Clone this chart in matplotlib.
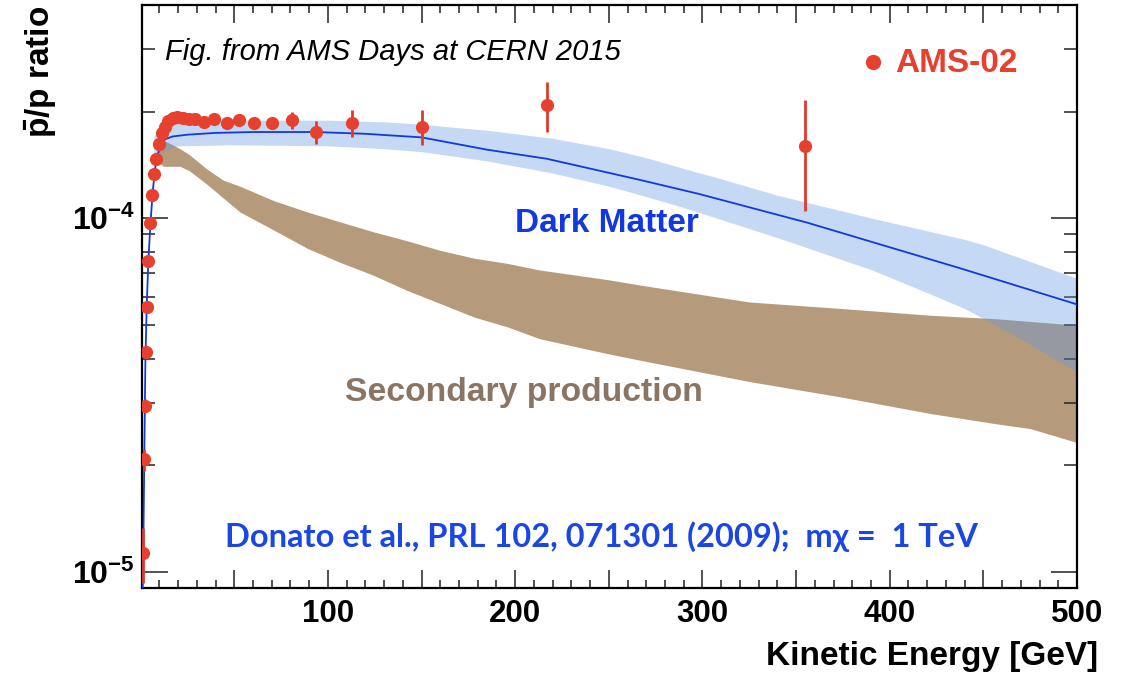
import numpy as np
import matplotlib
matplotlib.use("Agg")
import matplotlib.pyplot as plt
from matplotlib.ticker import MultipleLocator, FuncFormatter, LogLocator, NullFormatter

plt.rcParams['font.family'] = ['Liberation Sans', 'DejaVu Sans']
plt.rcParams['mathtext.fontset'] = 'custom'
plt.rcParams['mathtext.rm'] = 'Liberation Sans:bold'
plt.rcParams['mathtext.bf'] = 'Liberation Sans:bold'
plt.rcParams['mathtext.it'] = 'Liberation Sans:bold'

# AMS-02 pbar/p measurements (kinetic energy in GeV)
ams_energy = [1.3, 1.7, 2.1, 2.6, 3.2, 4.1, 5.2, 6.0, 7.1, 8.2, 10.0, 11.4, 12.8, 14.8,
              17.1, 19.6, 22.4, 25.9, 29.1, 33.8, 39.1, 45.9, 52.6, 60.5, 69.9, 81.0,
              93.6, 112.7, 150.1, 217.1, 354.8]
ams_ratio = [1.13e-5, 2.08e-5, 2.95e-5, 4.18e-5, 5.61e-5, 7.55e-5, 9.7e-5, 1.16e-4,
             1.33e-4, 1.47e-4, 1.62e-4, 1.74e-4, 1.81e-4, 1.88e-4, 1.92e-4, 1.93e-4,
             1.92e-4, 1.91e-4, 1.91e-4, 1.87e-4, 1.90e-4, 1.85e-4, 1.89e-4, 1.85e-4,
             1.85e-4, 1.89e-4, 1.75e-4, 1.86e-4, 1.81e-4, 2.09e-4, 1.60e-4]
ams_err = [2.0e-6, 1.5e-6, 1.2e-6, 1.2e-6, 1.5e-6, 2e-6, 2e-6, 2.5e-6, 3e-6, 3e-6, 3e-6,
           3e-6, 3e-6, 3e-6, 3e-6, 3e-6, 3e-6, 3.5e-6, 3.5e-6, 4e-6, 4e-6, 4.5e-6, 5e-6,
           5.5e-6, 7e-6, 1.1e-5, 1.3e-5, 1.65e-5, 2.05e-5, 3.35e-5, 5.55e-5]

# dark matter model (central curve)
dm_energy = [0.8, 1.0, 1.5, 2.0, 2.5, 3.2, 4.1, 5.3, 6.5, 8, 10, 13, 17, 25, 40, 60, 93,
             120, 150, 185, 217, 267, 298, 356, 438, 500]
dm_ratio = [5e-6, 8.5e-6, 1.3e-5, 2.3e-5, 3.9e-5, 5.6e-5, 7.6e-5, 9.8e-5, 1.2e-4, 1.42e-4,
            1.58e-4, 1.67e-4, 1.70e-4, 1.72e-4, 1.74e-4, 1.75e-4, 1.75e-4, 1.73e-4,
            1.69e-4, 1.56e-4, 1.47e-4, 1.28e-4, 1.17e-4, 9.7e-5, 7.2e-5, 5.7e-5]

# dark matter uncertainty band
band_energy = [7, 10, 15, 20, 50, 100, 130, 150, 185, 220, 250, 270, 290, 310, 340, 390,
               420, 440, 450, 470, 500]
band_hi = [1.70e-4, 1.80e-4, 1.86e-4, 1.88e-4, 1.89e-4, 1.89e-4, 1.87e-4, 1.84e-4, 1.77e-4,
           1.68e-4, 1.57e-4, 1.48e-4, 1.38e-4, 1.29e-4, 1.16e-4, 1.00e-4, 9.2e-5, 8.7e-5,
           8.4e-5, 7.7e-5, 6.75e-5]
band_lo = [1.48e-4, 1.52e-4, 1.57e-4, 1.60e-4, 1.61e-4, 1.60e-4, 1.57e-4, 1.54e-4, 1.45e-4,
           1.34e-4, 1.23e-4, 1.15e-4, 1.07e-4, 9.9e-5, 8.8e-5, 7.15e-5, 6.15e-5, 5.55e-5,
           5.2e-5, 4.55e-5, 3.67e-5]

# secondary production band
sec_energy = [9, 12, 17, 21, 26, 35, 44, 53, 71, 89, 106, 124, 142, 160, 178, 196, 213,
              249, 267, 325, 374, 422, 457, 475, 500]
sec_hi = [1.58e-4, 1.66e-4, 1.61e-4, 1.57e-4, 1.51e-4, 1.38e-4, 1.28e-4, 1.23e-4, 1.12e-4,
          1.04e-4, 9.77e-5, 9.15e-5, 8.63e-5, 8.1e-5, 7.7e-5, 7.44e-5, 7.13e-5, 6.7e-5,
          6.46e-5, 5.79e-5, 5.55e-5, 5.31e-5, 5.19e-5, 5.1e-5, 4.98e-5]
sec_lo = [1.45e-4, 1.40e-4, 1.40e-4, 1.40e-4, 1.36e-4, 1.25e-4, 1.14e-4, 1.04e-4, 9.25e-5,
          8.21e-5, 7.51e-5, 6.90e-5, 6.25e-5, 5.73e-5, 5.25e-5, 4.92e-5, 4.56e-5, 4.14e-5,
          3.96e-5, 3.45e-5, 3.12e-5, 2.80e-5, 2.62e-5, 2.54e-5, 2.32e-5]

W, H = 1128, 675
fig = plt.figure(figsize=(W / 100, H / 100), dpi=100)
ax = fig.add_axes([142 / W, 1 - 588 / H, (1077 - 142) / W, (588 - 5) / H])


def px(x, y):
    # pixel position -> figure fraction
    return x / W, 1 - y / H


red = '#e6412f'
blue = '#1238e0'

ax.fill_between(sec_energy, sec_lo, sec_hi, color='#b59b7c', lw=0, zorder=1)
ax.fill_between(band_energy, band_lo, band_hi, color='#6097e4', alpha=0.365, lw=0, zorder=2)
ax.plot(dm_energy, dm_ratio, color=blue, lw=1.3, zorder=3)
ax.errorbar(ams_energy, ams_ratio, yerr=ams_err, fmt='o', color=red, ms=9.5, mew=0,
            elinewidth=2, ecolor='#dd3b2c', capsize=0, zorder=4)

ax.set_yscale('log')
ax.set_xlim(0.7, 500)
ax.set_ylim(9e-6, 4e-4)

ax.xaxis.set_major_locator(MultipleLocator(50))
ax.xaxis.set_minor_locator(MultipleLocator(10))
ax.xaxis.set_major_formatter(FuncFormatter(lambda v, _: '%d' % v if v > 0 and v % 100 == 0 else ''))
ax.yaxis.set_major_locator(LogLocator(base=10))
ax.yaxis.set_minor_locator(LogLocator(base=10, subs=np.arange(2, 10)))
ax.yaxis.set_major_formatter(FuncFormatter(lambda v, _: r'$10^{%d}$' % round(np.log10(v))))
ax.yaxis.set_minor_formatter(NullFormatter())

ax.tick_params(axis='both', which='both', direction='in', top=True, right=True,
               color='#222222')
ax.tick_params(axis='x', which='major', length=13, width=1.1, labelsize=22.5, pad=8)
ax.tick_params(axis='x', which='minor', length=6, width=1.1)
ax.tick_params(axis='y', which='major', length=19, width=1.1, labelsize=23, pad=5)
ax.tick_params(axis='y', which='minor', length=9.5, width=1.1)
for lab in ax.get_xticklabels():
    lab.set_fontweight('bold')
for sp in ax.spines.values():
    sp.set_linewidth(1.6)

fig.text(*px(1098, 657), 'Kinetic Energy [GeV]', ha='right', va='center',
         fontsize=24, fontweight='bold')
fig.text(*px(41, 6), r'$\mathrm{\bar{p}}$/p ratio', ha='center', va='top',
         rotation=90, fontsize=24, fontweight='bold')

fig.text(*px(165, 52), 'Fig. from AMS Days at CERN 2015', ha='left', va='center',
         fontsize=21, style='italic')
ax.plot([391], [2.76e-4], 'o', color=red, ms=11, mew=0)
fig.text(*px(895, 63), 'AMS-02', ha='left', va='center', fontsize=24,
         fontweight='bold', color=red)
fig.text(*px(607, 224), 'Dark Matter', ha='center', va='center', fontsize=24,
         fontweight='bold', color=blue)
fig.text(*px(524, 393), 'Secondary production', ha='center', va='center', fontsize=24.3,
         fontweight='bold', color='#8a7565')
fig.text(*px(225, 537), 'Donato et al., PRL 102, 071301 (2009);  m\u03c7 =  1 TeV',
         ha='left', va='center', fontsize=23.5, fontweight='bold', color='#1a46e6',
         family=['Lato', 'DejaVu Sans'])

fig.savefig('out.png', dpi=100)
